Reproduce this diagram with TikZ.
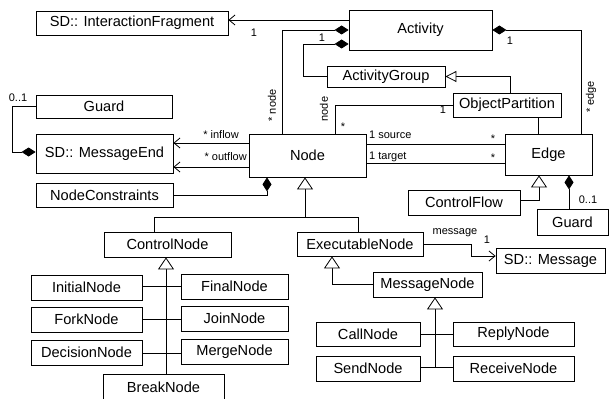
\documentclass[tikz,border=0pt]{standalone}
\usepackage{fontspec}
\setmainfont{Liberation Sans}
\usetikzlibrary{arrows.meta}

\begin{document}
\begin{tikzpicture}[x=1pt,y=-1pt,
  cls/.style={draw=black, line width=0.8pt, fill=white, inner sep=0pt,
    font=\fontsize{14.6}{16}\selectfont},
  lnk/.style={draw=black, line width=0.8pt},
  nav/.style={lnk, -{Straight Barb[length=6pt,width=10pt]}},
  comp/.style={lnk, -{Diamond[length=14pt,width=9pt,fill=black]}},
  gen/.style={lnk, -{Triangle[open,length=12pt,width=16pt,fill=white]}},
  gensmall/.style={lnk, -{Triangle[open,length=11pt,width=11pt,fill=white]}},
  lbl/.style={inner sep=0pt, font=\fontsize{11}{12}\selectfont},
]
\useasboundingbox (0,0) rectangle (609,398);
\clip (0,0) rectangle (609,398);

% ---- classes ----
\node[cls, minimum width=192pt, minimum height=24pt] (IF)  at (132,23)    {SD:: InteractionFragment};
\node[cls, minimum width=143pt, minimum height=40pt] (Act) at (420.5,30)  {Activity};
\node[cls, minimum width=118pt, minimum height=21pt] (AG)  at (386,76.5)  {ActivityGroup};
\node[cls, minimum width=108pt, minimum height=24pt] (OP)  at (507,105)   {ObjectPartition};
\node[cls, minimum width=136pt, minimum height=23pt] (GdA) at (104,106.5) {Guard};
\node[cls, minimum width=137pt, minimum height=39pt] (ME)  at (104.5,153.5) {SD:: MessageEnd};
\node[cls, minimum width=137pt, minimum height=24pt] (NC)  at (104.5,195) {NodeConstraints};
\node[cls, minimum width=117pt, minimum height=43pt] (Nd)  at (307.5,155.5) {Node};
\node[cls, minimum width=87pt,  minimum height=41pt] (Ed)  at (548.5,154.5) {Edge};
\node[cls, minimum width=112pt, minimum height=25pt] (CF)  at (464,202.5)  {ControlFlow};
\node[cls, minimum width=71pt,  minimum height=26pt] (GdB) at (572.5,222)  {Guard};
\node[cls, minimum width=127pt, minimum height=25pt] (CN)  at (167.5,244.5) {ControlNode};
\node[cls, minimum width=126pt, minimum height=24pt] (EN)  at (360,244)   {ExecutableNode};
\node[cls, minimum width=109pt, minimum height=25pt] (Msg) at (550.5,260.5) {SD:: Message};
\node[cls, minimum width=109pt, minimum height=25pt] (MsN) at (427.5,284.5) {MessageNode};

\node[cls, minimum width=111pt, minimum height=25pt] (IN)  at (86.5,287.5)  {InitialNode};
\node[cls, minimum width=107pt, minimum height=25pt] (FN)  at (234.5,286.5) {FinalNode};
\node[cls, minimum width=111pt, minimum height=25pt] (FK)  at (86.5,319.5)  {ForkNode};
\node[cls, minimum width=107pt, minimum height=25pt] (JN)  at (234.5,318.5) {JoinNode};
\node[cls, minimum width=111pt, minimum height=25pt] (DN)  at (86.5,352.5)  {DecisionNode};
\node[cls, minimum width=107pt, minimum height=25pt] (MN)  at (234.5,351.5) {MergeNode};
\node[cls, minimum width=121pt, minimum height=26pt, text depth=0pt] (BN) at (163.5,387) {BreakNode};

\node[cls, minimum width=104pt, minimum height=24pt] (Cl)  at (368,334)    {CallNode};
\node[cls, minimum width=121pt, minimum height=24pt] (Rp)  at (513.5,334)  {ReplyNode};
\node[cls, minimum width=104pt, minimum height=25pt] (Sd)  at (368,368.5)  {SendNode};
\node[cls, minimum width=121pt, minimum height=25pt] (Rc)  at (513.5,368.5) {ReceiveNode};

% ---- associations around Activity ----
\draw[nav] (Act.west |- 0,20) -- (IF.east |- 0,20);
\node[lbl] (mIF) at (254,33) {1};

\draw[comp] (282,0 |- Nd.north) -- (282,30) -- (Act.west |- 0,30);
\node[lbl] (mAct) at (322,38) {1};
\node[lbl, rotate=90] (rNode) at (272,105.5) {* node};

\draw[comp] (AG.west) -- (303,76.5) -- (303,44) -- (Act.west |- 0,44);

\draw[comp] (581,0 |- Ed.north) -- (581,30) -- (Act.east |- 0,30);
\node[lbl] (mAct2) at (510,41) {1};
\node[lbl, rotate=90] (rEdge) at (591,97) {* edge};

% ObjectPartition
\draw[gensmall] (510,0 |- OP.north) -- (510,76.5) -- (AG.east);
\draw[lnk] (OP.west) -- (335,105) -- (335,0 |- Nd.north);
\node[lbl] (mOP) at (443,110) {1};
\node[lbl, rotate=90] (rNode2) at (324,109) {node};
\node[lbl] (mNd) at (343,127) {*};
\draw[lnk] (538,0 |- OP.south) -- (538,0 |- Ed.north);

% Node -- Edge
\draw[lnk] (Nd.east |- 0,144) -- (Ed.west |- 0,144);
\draw[lnk] (Nd.east |- 0,163) -- (Ed.west |- 0,163);
\node[lbl, anchor=base west] (lSrc) at (369,139) {1 source};
\node[lbl, anchor=base west] (lTgt) at (369,159) {1 target};
\node[lbl] (mSrc) at (493,139) {*};
\node[lbl] (mTgt) at (493,158) {*};

% Node -- MessageEnd
\draw[nav] (Nd.west |- 0,143) -- (ME.east |- 0,143);
\draw[nav] (Nd.west |- 0,167) -- (ME.east |- 0,167);
\node[lbl, anchor=base east] (lIn)  at (239,139) {* inflow};
\node[lbl, anchor=base east] (lOut) at (247,160) {* outflow};

% Guard -- MessageEnd
\draw[comp] (GdA.west) -- (12,106.5) -- (12,152) -- (ME.west |- 0,152);
\node[lbl] (mGdA) at (18,98) {0..1};

% NodeConstraints -- Node
\draw[comp] (NC.east) -- (267,195) -- (267,0 |- Nd.south);

% Edge specialisation and guard
\draw[gen] (CF.east |- 0,200) -- (539,200) -- (539,0 |- Ed.south);
\draw[comp] (569,0 |- GdB.north) -- (569,0 |- Ed.south);
\node[lbl] (mGdB) at (588,200) {0..1};

% Node specialisation
\draw[lnk] (154,0 |- CN.north) -- (154,217) -- (358,217) -- (358,0 |- EN.north);
\draw[gen] (305,217) -- (305,0 |- Nd.south);

% ControlNode family
\draw[gen] (166,0 |- BN.north) -- (166,0 |- CN.south);
\draw[lnk] (IN.east |- 0,286) -- (FN.west |- 0,286);
\draw[lnk] (FK.east |- 0,319) -- (JN.west |- 0,319);
\draw[lnk] (DN.east |- 0,353) -- (MN.west |- 0,353);

% ExecutableNode family
\draw[gen] (MsN.west) -- (332,284.5) -- (332,0 |- EN.south);
\draw[gen] (435,367) -- (435,0 |- MsN.south);
\draw[lnk] (Cl.east) -- (Rp.west);
\draw[lnk] (Sd.east |- 0,367) -- (Rc.west |- 0,367);

% ExecutableNode -- Message
\draw[nav] (EN.east) -- (471,244) -- (471,256) -- (Msg.west |- 0,256);
\node[lbl] (lMsg) at (455,233) {message};
\node[lbl] (mMsg) at (487,240) {1};
\end{tikzpicture}
\end{document}
